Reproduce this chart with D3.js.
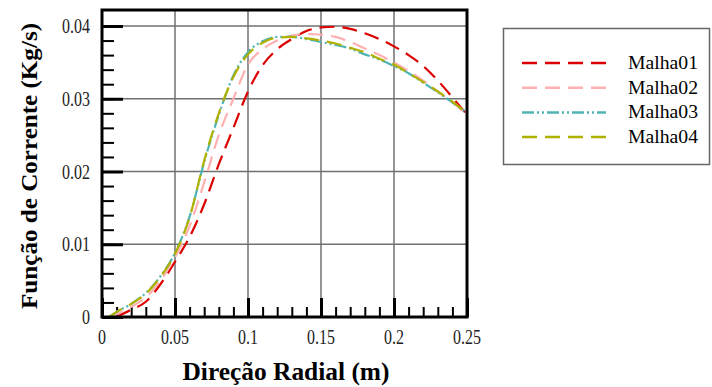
<!DOCTYPE html>
<html>
<head>
<meta charset="utf-8">
<script src="https://cdn.jsdelivr.net/npm/d3@7"></script>
<style>
  html, body { margin: 0; padding: 0; background: #fff; }
</style>
</head>
<body>
<div id="chart"></div>
<script>
const width = 712;
const height = 387;

// radial positions (m)
const xs = [0.005, 0.01, 0.02, 0.03, 0.04, 0.05, 0.06, 0.07, 0.08, 0.09, 0.1,
  0.11, 0.12, 0.13, 0.14, 0.15, 0.16, 0.17, 0.18, 0.19, 0.2, 0.21, 0.22, 0.23, 0.24, 0.25];

// stream function (kg/s), one array per mesh
const malha01 = [null, 0.0, 0.001, 0.0021, 0.0045, 0.0076, 0.011, 0.0155, 0.021, 0.026, 0.031,
  0.0346, 0.0368, 0.0382, 0.0393, 0.0398, 0.0399, 0.0396, 0.039, 0.0382, 0.0372, 0.036, 0.0345, 0.0325, 0.0302, 0.0278];
const malha02 = [0.0, 0.0004, 0.0014, 0.0027, 0.005, 0.0082, 0.0125, 0.0185, 0.025, 0.030, 0.0347,
  0.0368, 0.038, 0.0387, 0.0389, 0.0388, 0.0385, 0.0378, 0.0369, 0.036, 0.035, 0.0338, 0.0325, 0.031, 0.0295, 0.0278];
const malha03 = [0.0, 0.0007, 0.0018, 0.0033, 0.0056, 0.0088, 0.0138, 0.0213, 0.0278, 0.0332, 0.0364,
  0.0379, 0.0385, 0.0385, 0.0382, 0.0378, 0.0374, 0.0369, 0.0361, 0.0354, 0.0345, 0.0335, 0.0322, 0.0309, 0.0295, 0.0281];
const malha04 = [0.0, 0.0007, 0.0018, 0.0032, 0.0055, 0.0087, 0.0137, 0.0215, 0.028, 0.033, 0.0361,
  0.0377, 0.0384, 0.0385, 0.0383, 0.038, 0.0376, 0.037, 0.0364, 0.0355, 0.0347, 0.0335, 0.0323, 0.031, 0.0296, 0.028];

const xTicks = [0, 0.05, 0.1, 0.15, 0.2, 0.25];
const xTickLabels = ['0', '0.05', '0.1', '0.15', '0.2', '0.25'];
const yTicks = [0, 0.01, 0.02, 0.03, 0.04];
const yTickLabels = ['0', '0.01', '0.02', '0.03', '0.04'];
const xMinor = d3.range(0, 0.2501, 0.01);
const yMinor = d3.range(0, 0.0401, 0.002);

const series = [
  { name: 'Malha01', values: malha01, color: '#dc0000', dash: '15,8' },
  { name: 'Malha02', values: malha02, color: '#ffb0b0', dash: '15,8' },
  { name: 'Malha03', values: malha03, color: '#4fb4b4', dash: '12,3,2,3,2,3' },
  { name: 'Malha04', values: malha04, color: '#b0b000', dash: '15,8' },
];

const plot = { left: 102, right: 467, top: 10, bottom: 317 };

const x = d3.scaleLinear().domain([0, 0.25]).range([plot.left, plot.right]);
const y = d3.scaleLinear().domain([0, 0.0422]).range([plot.bottom, plot.top]);

const svg = d3.select('#chart').append('svg')
  .attr('width', width).attr('height', height)
  .attr('font-family', "'Liberation Serif', 'Times New Roman', 'DejaVu Serif', serif");

svg.append('defs').append('clipPath').attr('id', 'clip')
  .append('rect')
  .attr('x', plot.left).attr('y', plot.top)
  .attr('width', plot.right - plot.left).attr('height', plot.bottom - plot.top);

// grid
svg.append('g')
  .selectAll('line')
  .data(xTicks.slice(1, -1))
  .join('line')
  .attr('x1', d => x(d)).attr('x2', d => x(d))
  .attr('y1', plot.top).attr('y2', plot.bottom)
  .attr('stroke', '#707070').attr('stroke-width', 1.5);

svg.append('g')
  .selectAll('line')
  .data(yTicks.slice(1))
  .join('line')
  .attr('x1', plot.left).attr('x2', plot.right)
  .attr('y1', d => y(d)).attr('y2', d => y(d))
  .attr('stroke', '#707070').attr('stroke-width', 1.5);

// axes with inward ticks
const xMinorAxis = d3.axisTop(x).tickValues(xMinor).tickSize(10).tickFormat('');
svg.append('g').attr('transform', `translate(0,${plot.bottom})`).call(xMinorAxis)
  .call(g => g.select('.domain').remove())
  .call(g => g.selectAll('line').attr('stroke', '#000').attr('stroke-width', 2));

const xMajorAxis = d3.axisTop(x).tickValues(xTicks).tickSize(19).tickFormat('');
svg.append('g').attr('transform', `translate(0,${plot.bottom})`).call(xMajorAxis)
  .call(g => g.select('.domain').remove())
  .call(g => g.selectAll('line').attr('stroke', '#000').attr('stroke-width', 3));

const yMinorAxis = d3.axisRight(y).tickValues(yMinor).tickSize(12).tickFormat('');
svg.append('g').attr('transform', `translate(${plot.left},0)`).call(yMinorAxis)
  .call(g => g.select('.domain').remove())
  .call(g => g.selectAll('line').attr('stroke', '#000').attr('stroke-width', 2));

const yMajorAxis = d3.axisRight(y).tickValues(yTicks).tickSize(21).tickFormat('');
svg.append('g').attr('transform', `translate(${plot.left},0)`).call(yMajorAxis)
  .call(g => g.select('.domain').remove())
  .call(g => g.selectAll('line').attr('stroke', '#000').attr('stroke-width', 3));

// tick labels, squeezed like the original
const squeeze = (sel, f) => sel.each(function () {
  const w = this.getComputedTextLength();
  d3.select(this).attr('textLength', w * f).attr('lengthAdjust', 'spacingAndGlyphs');
});

svg.append('g')
  .selectAll('text')
  .data(xTicks)
  .join('text')
  .attr('x', d => x(d)).attr('y', 344)
  .attr('text-anchor', 'middle')
  .attr('font-size', 20)
  .attr('fill', '#222')
  .text((d, i) => xTickLabels[i])
  .call(squeeze, 0.8);

svg.append('g')
  .selectAll('text')
  .data(yTicks)
  .join('text')
  .attr('x', 90).attr('y', d => y(d) + 7)
  .attr('text-anchor', 'end')
  .attr('font-size', 20)
  .attr('fill', '#222')
  .text((d, i) => yTickLabels[i])
  .call(squeeze, 0.8);

// curves
const line = d3.line()
  .defined(d => d[1] != null)
  .x(d => x(d[0])).y(d => y(d[1]))
  .curve(d3.curveMonotoneX);

svg.append('g').attr('clip-path', 'url(#clip)')
  .selectAll('path')
  .data(series)
  .join('path')
  .attr('d', s => line(xs.map((v, i) => [v, s.values[i]])))
  .attr('fill', 'none')
  .attr('stroke', s => s.color)
  .attr('stroke-width', 2.2)
  .attr('stroke-dasharray', s => s.dash);

// frame
svg.append('rect')
  .attr('x', plot.left).attr('y', plot.top)
  .attr('width', plot.right - plot.left).attr('height', plot.bottom - plot.top)
  .attr('fill', 'none').attr('stroke', '#000').attr('stroke-width', 3);

// axis titles
svg.append('text')
  .attr('x', 286).attr('y', 380)
  .attr('text-anchor', 'middle')
  .attr('font-size', 25).attr('font-weight', 'bold')
  .attr('textLength', 207).attr('lengthAdjust', 'spacingAndGlyphs')
  .text('Direção Radial (m)');

svg.append('text')
  .attr('transform', 'translate(37,166) rotate(-90)')
  .attr('text-anchor', 'middle')
  .attr('font-size', 24).attr('font-weight', 'bold')
  .attr('textLength', 286).attr('lengthAdjust', 'spacingAndGlyphs')
  .text('Função de Corrente (Kg/s)');

// legend
const legend = svg.append('g');
legend.append('rect')
  .attr('x', 503.5).attr('y', 28.5).attr('width', 206).attr('height', 136)
  .attr('fill', '#fff').attr('stroke', '#666').attr('stroke-width', 1.5);

const item = legend.selectAll('g.item')
  .data(series)
  .join('g')
  .attr('class', 'item')
  .attr('transform', (d, i) => `translate(0,${63 + i * 24.7})`);

item.append('line')
  .attr('x1', 522).attr('x2', 606)
  .attr('stroke', d => d.color).attr('stroke-width', 2.5)
  .attr('stroke-dasharray', d => d.dash);

item.append('text')
  .attr('x', 628).attr('y', 6)
  .attr('font-size', 18)
  .attr('textLength', 70).attr('lengthAdjust', 'spacingAndGlyphs')
  .text(d => d.name);
</script>
</body>
</html>
